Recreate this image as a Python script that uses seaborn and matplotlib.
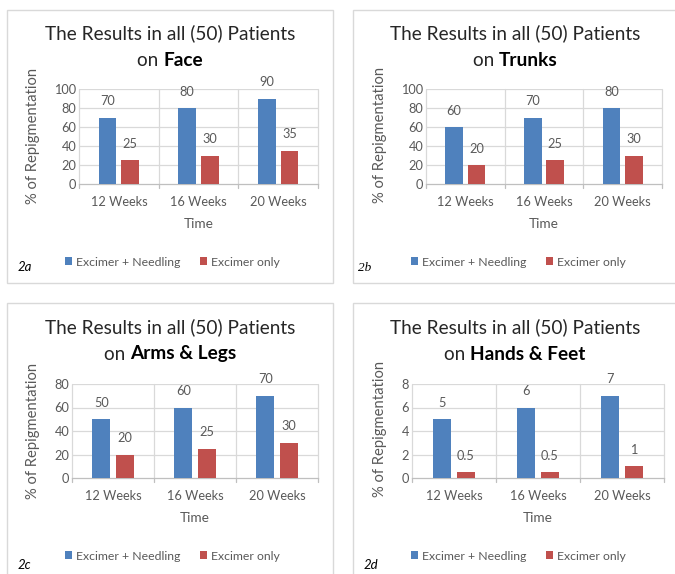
import matplotlib
matplotlib.use("Agg")
import matplotlib.pyplot as plt
from matplotlib.patches import Rectangle, Patch
import seaborn as sns
import pandas as pd
import numpy as np

sns.set_theme(style="white")
plt.rcParams['font.family'] = ['Lato', 'DejaVu Sans']

# ---------------- data ----------------
times = ["12 Weeks", "16 Weeks", "20 Weeks"]
groups = ["Excimer + Needling", "Excimer only"]
regions = ["Face", "Trunks", "Arms & Legs", "Hands & Feet"]
panel_labels = ["2a", "2b", "2c", "2d"]

face_needling = [70, 80, 90]
face_excimer = [25, 30, 35]
trunks_needling = [60, 70, 80]
trunks_excimer = [20, 25, 30]
arms_needling = [50, 60, 70]
arms_excimer = [20, 25, 30]
hands_needling = [5, 6, 7]
hands_excimer = [0.5, 0.5, 1]

y_max = [100, 100, 80, 8]
y_step = [20, 20, 20, 2]

series = [
    (face_needling, face_excimer),
    (trunks_needling, trunks_excimer),
    (arms_needling, arms_excimer),
    (hands_needling, hands_excimer),
]

BLUE = "#4F81BD"
RED = "#C0504D"
GRID = "#D9D9D9"
AXTXT = "#595959"
TITLE = "#262626"

W, H = 675, 574
fig = plt.figure(figsize=(W / 100, H / 100), dpi=100)
renderer = fig.canvas.get_renderer()


def fx(x):
    return x / W


def fy(y):
    return 1 - y / H


layouts = [
    dict(plot=(79, 318, 89, 184), box=(7, 9.5, 333, 283), tx=170, yl=(33, 136),
         lab=(18, 267), leg=(172, 262), top=9.5),
    dict(plot=(426, 662, 89, 184), box=(353, 9.5, 680, 283), tx=515, yl=(380, 135),
         lab=(358, 268), leg=(518, 262), top=9.5),
    dict(plot=(72, 318, 384, 478), box=(7, 303, 333, 580), tx=170, yl=(33, 431),
         lab=(18, 565), leg=(172, 556), top=303),
    dict(plot=(412, 664, 384, 478), box=(353, 303, 680, 580), tx=515, yl=(380, 429),
         lab=(364, 565), leg=(518, 556), top=303),
]

TFS = 13.7
TICKFS = 9.2
LBLFS = 9.8
YLBLFS = 10.6

for i, lay in enumerate(layouts):
    x0, x1, yt, yb = lay["plot"]
    bx0, by0, bx1, by1 = lay["box"]
    fig.patches.append(Rectangle((fx(bx0), fy(by1)), fx(bx1 - bx0), (by1 - by0) / H,
                                 transform=fig.transFigure, fill=False,
                                 edgecolor=GRID, linewidth=1.0, zorder=0))

    ax = fig.add_axes([fx(x0), fy(yb), fx(x1 - x0), (yb - yt) / H])
    nd, ex = series[i]
    df = pd.DataFrame({
        "Time": times * 2,
        "Value": list(nd) + list(ex),
        "Group": [groups[0]] * 3 + [groups[1]] * 3,
    })
    sns.barplot(data=df, x="Time", y="Value", hue="Group", hue_order=groups,
                palette=[BLUE, RED], width=0.57, gap=0.22, ax=ax, legend=False,
                saturation=1, edgecolor="none", zorder=3)
    for c in ax.containers:
        ax.bar_label(c, labels=["%g" % v for v in c.datavalues], padding=7.5,
                     fontsize=TICKFS, color=AXTXT)

    ax.set_xlim(-0.5, 2.5)
    ax.set_ylim(0, y_max[i])
    ax.set_yticks(np.arange(0, y_max[i] + 0.001, y_step[i]))
    ax.grid(False)
    for yv in np.arange(y_step[i], y_max[i] + 0.001, y_step[i]):
        ax.axhline(yv, color=GRID, lw=0.9, zorder=1)
    for xv in [-0.5, 0.5, 1.5, 2.5]:
        ax.plot([xv, xv], [0, 1], transform=ax.get_xaxis_transform(), color=GRID,
                lw=0.9, zorder=1, clip_on=False)
        ax.plot([xv, xv], [0, -4 / (yb - yt)], transform=ax.get_xaxis_transform(),
                color="#BFBFBF", lw=0.9, zorder=1, clip_on=False)
    for s in ["top", "right", "left"]:
        ax.spines[s].set_visible(False)
    ax.spines["bottom"].set_color("#BFBFBF")
    ax.spines["bottom"].set_linewidth(0.9)
    ax.tick_params(axis="both", length=0, labelsize=TICKFS, labelcolor=AXTXT)
    ax.tick_params(axis="y", pad=2)
    ax.tick_params(axis="x", pad=8.5)
    ax.set_xlabel("")
    ax.set_ylabel("")
    ax.set_facecolor("white")

    fig.text(fx((x0 + x1) / 2), fy(yb + 40), "Time", ha="center",
             va="center", fontsize=LBLFS, color=AXTXT)
    fig.text(fx(lay["yl"][0]), fy(lay["yl"][1]), "% of Repigmentation", rotation=90,
             ha="center", va="center", fontsize=YLBLFS, color=AXTXT)

    top = lay["top"]
    fig.text(fx(lay["tx"]), fy(top + 24), "The Results in all (50) Patients",
             ha="center", va="center", fontsize=TFS, color=TITLE)
    t1 = fig.text(0, fy(top + 51), "on ", ha="left", va="center", fontsize=TFS, color=TITLE)
    t2 = fig.text(0, fy(top + 51), regions[i], ha="left", va="center", fontsize=TFS,
                  color="black", fontweight="bold")
    w1 = t1.get_window_extent(renderer).width
    w2 = t2.get_window_extent(renderer).width
    start = lay["tx"] - (w1 + w2) / 2
    t1.set_x(fx(start))
    t2.set_x(fx(start + w1))

    fig.text(fx(lay["lab"][0]), fy(lay["lab"][1]), panel_labels[i], ha="left",
             va="center", fontsize=9.5, style="italic", color="black",
             family=["Liberation Serif"] if i == 1 else ["Lato"])

    handles = [Patch(facecolor=BLUE, edgecolor="none"), Patch(facecolor=RED, edgecolor="none")]
    fig.legend(handles, groups, loc="center", bbox_to_anchor=(fx(lay["leg"][0]), fy(lay["leg"][1])),
               ncol=2, frameon=False, fontsize=8.8, handlelength=0.6, handleheight=0.6,
               handletextpad=0.3, columnspacing=1.6, labelcolor=AXTXT, borderpad=0,
               borderaxespad=0)

fig.savefig("out.png", dpi=100, facecolor="white")
